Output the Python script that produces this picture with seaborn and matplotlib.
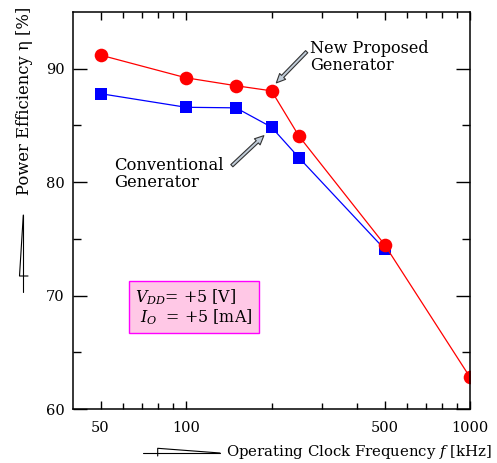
import matplotlib
matplotlib.use("Agg")
import matplotlib.pyplot as plt
import seaborn as sns
import pandas as pd
from matplotlib.lines import Line2D
from matplotlib.ticker import FixedLocator, NullFormatter, FixedFormatter

# ---- data ----
freq_new = [50, 100, 150, 200, 250, 500, 1000]
eff_new = [91.2, 89.2, 88.5, 88.05, 84.05, 74.5, 62.8]
freq_conv = [50, 100, 150, 200, 250, 500]
eff_conv = [87.8, 86.6, 86.55, 84.85, 82.15, 74.1]
x_major = [50, 100, 500, 1000]
x_minor = [60, 70, 80, 90, 200, 300, 400, 600, 700, 800, 900]
y_major = [60, 70, 80, 90]
y_minor = [65, 75, 85]

df_new = pd.DataFrame({"f": freq_new, "eff": eff_new})
df_conv = pd.DataFrame({"f": freq_conv, "eff": eff_conv})

sns.set_style("ticks")
plt.rcParams["font.family"] = ["DejaVu Serif"]
plt.rcParams["mathtext.fontset"] = "dejavuserif"
plt.rcParams["text.color"] = "black"
plt.rcParams["axes.labelcolor"] = "black"

W, H = 497, 463
fig = plt.figure(figsize=(W / 100, H / 100), dpi=100)
ax = fig.add_axes([73 / W, 1 - 409 / H, 397 / W, 397 / H])

sns.lineplot(data=df_conv, x="f", y="eff", ax=ax, color="#0000ff", marker="s",
             markersize=8.5, markeredgewidth=0, linewidth=0.9)
sns.lineplot(data=df_new, x="f", y="eff", ax=ax, color="#ff0000", marker="o",
             markersize=9.8, markeredgewidth=0, linewidth=0.9)

ax.set_xscale("log")
ax.set_xlim(40, 1000)
ax.set_ylim(60, 95)
ax.xaxis.set_major_locator(FixedLocator(x_major))
ax.xaxis.set_major_formatter(FixedFormatter([str(v) for v in x_major]))
ax.xaxis.set_minor_locator(FixedLocator(x_minor))
ax.xaxis.set_minor_formatter(NullFormatter())
ax.yaxis.set_major_locator(FixedLocator(y_major))
ax.yaxis.set_minor_locator(FixedLocator(y_minor))
ax.set_xlabel("")
ax.set_ylabel("")

ax.tick_params(axis="both", which="both", direction="in", top=True, right=True,
               colors="black", labelsize=10.5, width=1)
ax.tick_params(axis="x", which="major", length=6, pad=8.5)
ax.tick_params(axis="x", which="minor", length=4)
ax.tick_params(axis="y", which="major", length=10, pad=6)
ax.tick_params(axis="y", which="minor", length=6)
for s in ax.spines.values():
    s.set_linewidth(1.1)
    s.set_color("black")

fig.text(359 / W, 1 - 452 / H, "Operating Clock Frequency $f$ [kHz]",
         ha="center", va="center", fontsize=10.7, color="black")
fig.text(25 / W, 1 - 101 / H, "Power Efficiency η [%]", rotation=90,
         ha="center", va="center", fontsize=11.8, color="black")

arrow_props = dict(arrowstyle="simple,head_length=0.65,head_width=0.6,tail_width=0.22",
                   fc="#c0ccd8", ec="#333333", lw=0.8, shrinkA=0, shrinkB=0)
ax.annotate("", xy=(208, 88.75), xytext=(266, 91.5), arrowprops=arrow_props)
ax.annotate("", xy=(188, 84.1), xytext=(145, 81.45), arrowprops=arrow_props)

ax.text(273, 92.5, "New Proposed\nGenerator", ha="left", va="top",
        fontsize=11.6, linespacing=0.98, color="black")
ax.text(55.8, 82.2, "Conventional\nGenerator", ha="left", va="top",
        fontsize=11.8, linespacing=0.98, color="black")

ax.text(66.3, 69.0, "$V_{DD}$= +5 [V]\n $I_O$  = +5 [mA]", ha="left", va="center",
        fontsize=11.4, linespacing=1.0, color="black",
        bbox=dict(boxstyle="square,pad=0.4", fc="#ffc8e6", ec="#ff00ff", lw=1))

# decorative marks beside the axis labels
def px(pts):
    return [p[0] / W for p in pts], [1 - p[1] / H for p in pts]

for pts in ([(23.3, 215), (23.3, 292)], [(23.3, 215), (19.5, 276), (28, 276)],
            [(142.7, 453), (220, 453)], [(157.7, 456), (157.7, 448.3), (220, 453)]):
    xs, ys = px(pts)
    fig.add_artist(Line2D(xs, ys, color="black", lw=0.8, transform=fig.transFigure))

fig.savefig("out.png", dpi=100, facecolor="white")
